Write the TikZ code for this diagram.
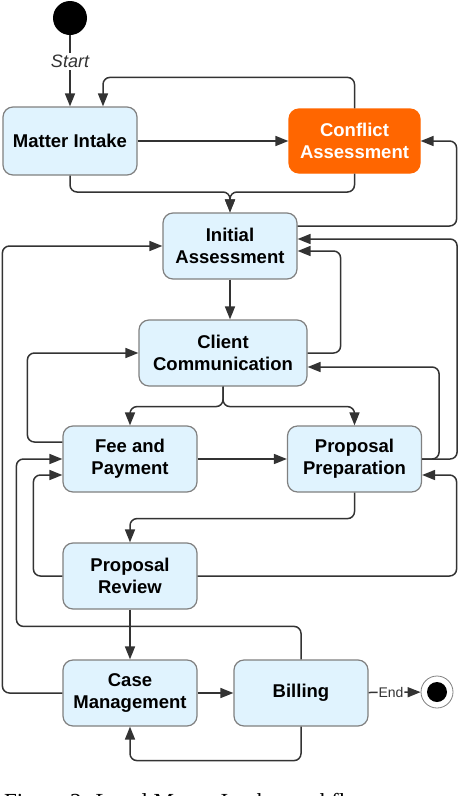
\documentclass[tikz,border=0pt]{standalone}
\usepackage{fontspec}
\setmainfont{Liberation Sans}
\newfontfamily\capfont{Liberation Serif}
\usepackage{tikz}
\usetikzlibrary{arrows.meta, positioning, calc}
\usepackage{xcolor}
\definecolor{boxfill}{HTML}{E0F3FE}
\definecolor{boxline}{HTML}{808080}
\definecolor{wire}{HTML}{333333}
\definecolor{conflictorange}{HTML}{FF6600}
\tikzset{
  state/.style={draw=boxline, line width=1.2pt, fill=boxfill, rounded corners=10pt,
    minimum width=134pt, minimum height=66pt, inner sep=0pt, align=center,
    font=\fontsize{18.5}{22}\selectfont\bfseries},
  flow/.style={draw=wire, line width=1.5pt, rounded corners=7pt,
    -{Triangle[length=13pt,width=10pt]}},
  startlbl/.style={fill=white, text=wire, inner sep=2pt, font=\fontsize{18}{22}\selectfont\itshape},
  endlbl/.style={fill=white, text=wire, inner sep=1pt, font=\fontsize{14}{16}\selectfont},
}

\begin{document}
\begin{tikzpicture}[x=1pt, y=-1pt]
  \useasboundingbox (0,0) rectangle (458,796);
  \clip (0,0) rectangle (458,796);
  \node[circle, fill=black, minimum size=34pt, inner sep=0pt] (start) at (70,18) {};
  \node[state, minimum height=68pt] (intake) at (70,141) {Matter Intake};
  \node[state, fill=conflictorange, draw=conflictorange, text=white,
        minimum width=131pt, minimum height=64pt] (conflict) at (354.5,141) {Conflict\\Assessment};
  \node[state] (initial) at (230,246) {Initial\\Assessment};
  \node[state, minimum width=168pt] (client) at (223,353) {Client\\Communication};
  \node[state] (fee) at (130,459) {Fee and\\Payment};
  \node[state] (prep) at (354.5,459) {Proposal\\Preparation};
  \node[state] (review) at (130,576) {Proposal\\Review};
  \node[state] (case) at (130,693) {Case\\Management};
  \node[state] (billing) at (301,693) {Billing};
  \node[circle, draw=boxline, fill=white, line width=0.8pt, minimum size=32pt, inner sep=0pt] (final) at (437,692) {};
  \node[circle, fill=black, minimum size=20pt, inner sep=0pt] (finaldot) at (final) {};

  \draw[flow] (start) -- node[startlbl, pos=0.37] {Start} (intake);
  \draw[flow] (conflict.north) -- ++(0,-31) -| ([xshift=33pt]intake.north);
  \draw[flow] (intake) -- (conflict);
  \coordinate (merge) at (230,192);
  \draw[flow] (intake.south) |- (merge) -- (initial.north);
  \draw[flow] (conflict.south) |- (merge) -- (initial.north);
  \draw[flow] ([yshift=20pt]initial.east) -- ++(159,0) |- (conflict.east);
  \draw[flow] (prep.east) -- ++(35,0) |- ([yshift=7pt]initial.east);
  \draw[flow] (prep.east) -- ++(17,0) |- ([yshift=-14pt]client.east);
  \draw[flow] (client.east) -- ++(33,0) |- ([yshift=-5pt]initial.east);
  \draw[flow] (initial.south) -- (initial.south |- client.north);
  \draw[flow] (client.south) -- ++(0,20) -| (fee.north);
  \draw[flow] (client.south) -- ++(0,20) -| (prep.north);
  \draw[flow] ([yshift=17pt]fee.west) -- ++(-35,0) |- (client.west);
  \draw[flow] (fee) -- (prep);
  \draw[flow] (prep.south) -- ++(0,26) -| (review.north);
  \draw[flow] (review.west) -- ++(-29,0) |- ([yshift=-16pt]fee.west);
  \draw[flow] (review.east) -- ++(259,0) |- ([yshift=-16pt]prep.east);
  \draw[flow] (billing.north) -- ++(0,-33) -| ([xshift=-46pt]fee.west) -- (fee.west);
  \draw[flow] (review) -- (case);
  \draw[flow] (case.west) -- ++(-60,0) |- (initial.west);
  \draw[flow] (case) -- (billing);
  \draw[flow] (billing.south) -- ++(0,34) -| (case.south);
  \draw[flow] (billing) -- node[endlbl, pos=0.43] {End} (final);

  \node[anchor=base west, inner sep=0pt, font=\capfont\fontsize{23}{26}\selectfont] (caption) at (4,809)
    {Figure 2: Legal Matter Intake workflow};
\end{tikzpicture}
\end{document}
